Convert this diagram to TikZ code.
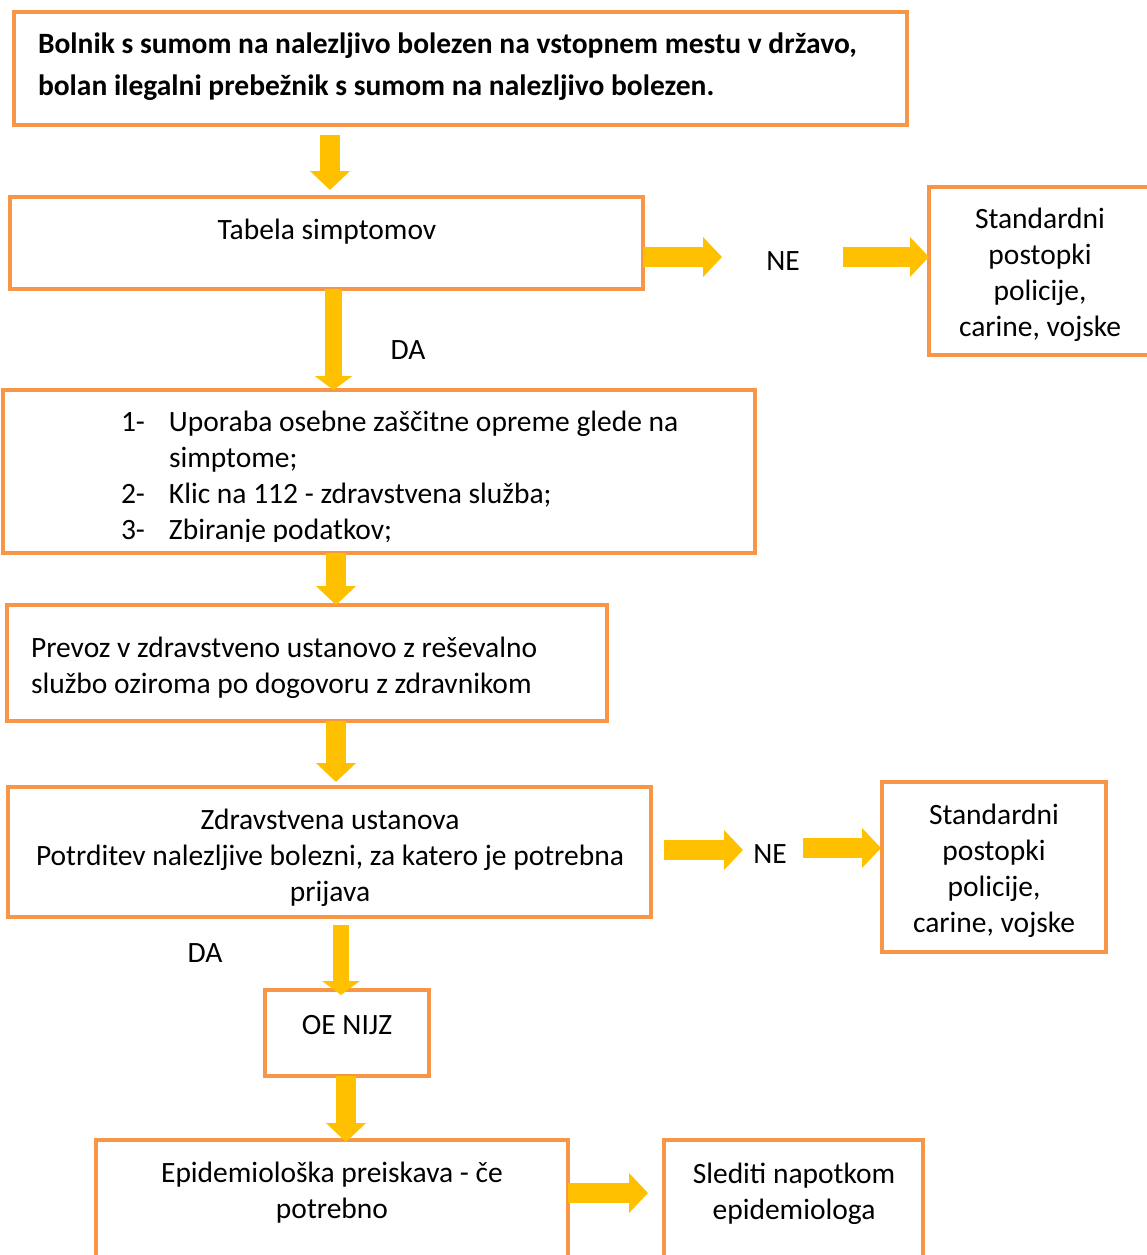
\documentclass[tikz,border=0pt]{standalone}
\usepackage{fontspec}
\setmainfont{Carlito}
\usetikzlibrary{arrows.meta}
\definecolor{boxorange}{RGB}{247,150,70}
\definecolor{arrowgold}{RGB}{255,192,0}

\begin{document}
\begin{tikzpicture}[x=1pt,y=-1pt,
  box/.style={draw=boxorange, line width=4pt, inner sep=0pt, outer sep=0pt},
  txt/.style={font=\fontsize{29.5}{36}\selectfont, inner sep=0pt, outer sep=0pt, text=black, yshift=-2.5pt},
  fat/.style={draw=arrowgold, line width=20pt, -{Triangle[length=19pt,width=39pt]}},
  thin fat/.style={draw=arrowgold, line width=17pt, -{Triangle[length=14pt,width=37pt]}},
]
\useasboundingbox (0,0) rectangle (1147,1255);
\clip (0,0) rectangle (1147,1255);

% boxes
\node[box, minimum width=893pt, minimum height=113pt] (b1) at (460.5,68.5) {};
\node[box, minimum width=633pt, minimum height=92pt]  (b2) at (326.5,243) {};
\node[box, minimum width=231pt, minimum height=168pt] (r1) at (1044.5,271) {};
\node[box, minimum width=752pt, minimum height=163pt] (b3) at (379,471.5) {};
\node[box, minimum width=600pt, minimum height=116pt] (b4) at (307,663) {};
\node[box, minimum width=643pt, minimum height=130pt] (b5) at (329.5,852) {};
\node[box, minimum width=224pt, minimum height=170pt] (r2) at (994,867) {};
\node[box, minimum width=164pt, minimum height=86pt]  (b6) at (347,1033) {};
\node[box, minimum width=472pt, minimum height=130pt] (b7) at (332,1205) {};
\node[box, minimum width=259pt, minimum height=130pt] (b8) at (793.5,1205) {};

% texts
\node[txt, font=\fontsize{29.5}{42}\selectfont\bfseries, align=left, anchor=west] (t1) at (38,64)
  {Bolnik s sumom na nalezljivo bolezen na vstopnem mestu v državo,\\bolan ilegalni prebežnik s sumom na nalezljivo bolezen.};
\node[txt] (t2) at (327,229) {Tabela simptomov};
\node[txt, align=center] (tr1) at (1040,272) {Standardni\\postopki\\policije,\\carine, vojske};
\node[txt] (ne1) at (783,259) {NE};
\node[txt] (da1) at (408,348) {DA};
\begin{scope}
  \clip (5,392) rectangle (753,541);
  \node[txt, align=left, anchor=west] (t3) at (121,475)
    {\makebox[48pt][l]{1-}Uporaba osebne zaščitne opreme glede na\\
     \hspace*{48pt}simptome;\\
     \makebox[48pt][l]{2-}Klic na 112 - zdravstvena služba;\\
     \makebox[48pt][l]{3-}Zbiranje podatkov;};
\end{scope}
\node[txt, align=left, anchor=west] (t4) at (31,665)
  {Prevoz v zdravstveno ustanovo z reševalno\\službo oziroma po dogovoru z zdravnikom};
\node[txt, align=center] (t5) at (330,855)
  {Zdravstvena ustanova\\Potrditev nalezljive bolezni, za katero je potrebna\\prijava};
\node[txt] (ne2) at (770,852) {NE};
\node[txt, align=center] (tr2) at (994,868) {Standardni\\postopki\\policije,\\carine, vojske};
\node[txt] (da2) at (205,951) {DA};
\node[txt] (t6) at (347,1023) {OE NIJZ};
\node[txt, align=center] (t7) at (332,1190) {Epidemiološka preiskava - če\\potrebno};
\node[txt, align=center] (t8) at (794,1191) {Slediti napotkom\\epidemiologa};

% arrow columns and rows
\coordinate (k1) at (330,0);
\coordinate (k2) at (333.5,0);
\coordinate (k3) at (336,0);
\coordinate (k4) at (341,0);
\coordinate (k5) at (346,0);
\coordinate (h1) at (0,257);
\coordinate (h2) at (0,850);
\coordinate (h3) at (0,848);
\coordinate (h4) at (0,1193);

% connectors
\draw[fat, shorten <=10pt, shorten >=7pt] (b1.south -| k1) -- (b2.north -| k1);
\draw[fat, shorten >=61pt] (b2.east |- h1) -- (ne1.center |- h1);
\draw[fat, shorten <=60pt] (ne1.center |- h1) -- (r1.west |- h1);
\draw[thin fat] (b2.south -| k2) -- (b3.north -| k2);
\draw[fat] (b3.south -| k3) -- (b4.north -| k3);
\draw[fat, shorten >=5pt] (b4.south -| k3) -- (b5.north -| k3);
\draw[fat, shorten <=13pt, shorten >=27pt] (b5.east |- h2) -- (ne2.center |- h2);
\draw[fat, shorten <=33pt, shorten >=1pt] (ne2.center |- h3) -- (r2.west |- h3);
\draw[thin fat, line width=16pt, shorten <=8pt, shorten >=-5pt] (b5.south -| k4) -- (b6.north -| k4);
\draw[fat, shorten >=-2pt] (b6.south -| k5) -- (b7.north -| k5);
\draw[fat, shorten >=16pt] (b7.east |- h4) -- (b8.west |- h4);
\end{tikzpicture}
\end{document}
